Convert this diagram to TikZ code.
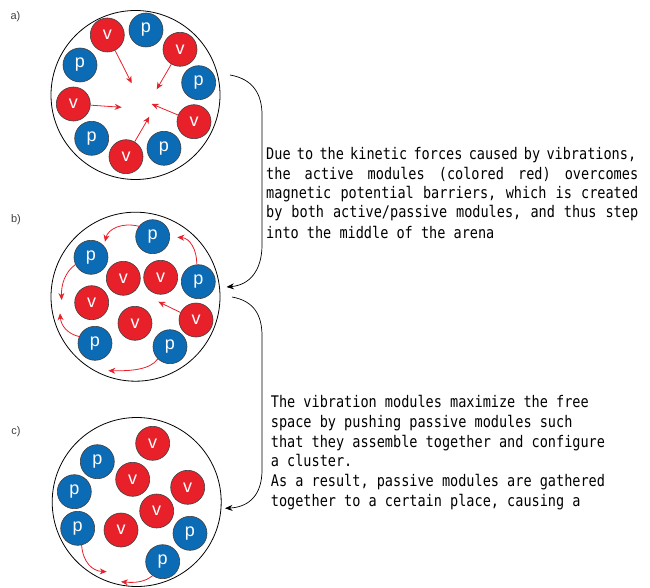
\documentclass[tikz,border=0pt]{standalone}
\usepackage{fontspec}
\usetikzlibrary{arrows.meta}
\newfontfamily\monofont[FakeStretch=0.846]{DejaVu Sans Mono}
\newfontfamily\labfont{Liberation Sans}
\definecolor{modred}{HTML}{E8202A}
\definecolor{modblue}{HTML}{0B6BB5}

% justified line of monospaced text
\newcommand\jline[2]{\makebox[#1][s]{\spaceskip=\fontdimen2\font plus 1fil minus 0.4\fontdimen2\font\relax #2}}

\tikzset{
  module/.style={circle, minimum size=34pt, inner sep=0pt, draw=black!75,
    line width=0.6pt, text=white, font=\labfont\fontsize{18}{18}\selectfont},
  modp/.style={module, fill=modblue},
  modv/.style={module, fill=modred},
  arena/.style={circle, draw=black, line width=0.8pt, minimum size=169pt, inner sep=0pt},
  push/.style={draw=modred, line width=0.8pt, -{Stealth[length=7pt,width=6pt]}},
  flow/.style={draw=black, line width=0.7pt, -{Stealth[length=7.5pt,width=6pt]}},
  panel/.style={font=\labfont\fontsize{11}{11}\selectfont, text=black!75, inner sep=0pt},
  txt/.style={anchor=base west, inner sep=0pt, font=\monofont\fontsize{16}{16}\selectfont},
}

\begin{document}
\begin{tikzpicture}[x=1pt, y=-1pt]
\useasboundingbox (0,0) rectangle (650,588);

% panel labels
\node[panel] (la) at (15.5,17) {a)};
\node[panel] (lb) at (16,220) {b)};
\node[panel] (lc) at (16,432) {c)};

% arenas
\node[arena] (A) at (135.5,95) {};
\node[arena] (B) at (135.5,296.7) {};
\node[arena] (C) at (136.7,502) {};

% ---- panel a: modules on the rim
\node[modv] (a1) at (107.3,35) {v};
\node[modp] (a2) at (146,30) {p};
\node[modv] (a3) at (180,49.3) {v};
\node[modp] (a4) at (198.7,82.7) {p};
\node[modv] (a5) at (194,121.7) {v};
\node[modp] (a6) at (164,148.3) {p};
\node[modv] (a7) at (126,156.7) {v};
\node[modp] (a8) at (91.7,138.3) {p};
\node[modv] (a9) at (73.3,104) {v};
\node[modp] (a10) at (80,65) {p};

\coordinate (ta1) at (131.7,83.3);
\coordinate (ta3) at (156.7,89.3);
\coordinate (ta9) at (121.7,107.3);
\coordinate (ta5) at (151.7,104);
\coordinate (ta7) at (149.3,116.7);
\draw[push] (a1) -- (ta1);
\draw[push] (a3) -- (ta3);
\draw[push] (a9) -- (ta9);
\draw[push] (a5) -- (ta5);
\draw[push] (a7) -- (ta7);

% ---- panel b: active modules in the middle
\node[modp] (b1) at (152.7,236.7) {p};
\node[modp] (b2) at (91,257.3) {p};
\node[modv] (b3) at (123.3,278.3) {v};
\node[modv] (b4) at (160.7,277.3) {v};
\node[modp] (b5) at (198.3,281.7) {p};
\node[modv] (b6) at (91.7,302.7) {v};
\node[modv] (b7) at (135,323.3) {v};
\node[modv] (b8) at (196,320) {v};
\node[modp] (b9) at (95,343.3) {p};
\node[modp] (b10) at (170,346.7) {p};

\coordinate (tb1) at (105,241.7);
\coordinate (tb5) at (177.3,237.3);
\coordinate (tb2) at (61.7,300);
\coordinate (tb9) at (60,313.3);
\coordinate (tb8) at (158.3,301.7);
\coordinate (tb10) at (108.3,370.7);
\draw[push] (b1.143) .. controls (122,222) and (108,229) .. (tb1);
\draw[push] (b5.95) .. controls (197,250) and (190,238) .. (tb5);
\draw[push] (b2.205) .. controls (65,272) and (61,285) .. (tb2);
\draw[push] (b9.157) .. controls (68,334) and (61,326) .. (tb9);
\draw[push] (b8) -- (tb8);
\draw[push] (b10.225) .. controls (150,370) and (130,371) .. (tb10);

% ---- panel c: passive modules gathered
\node[modv] (c1) at (152.7,443.3) {v};
\node[modp] (c2) at (97.3,461.7) {p};
\node[modv] (c3) at (132.7,479.3) {v};
\node[modp] (c4) at (74.3,491.7) {p};
\node[modv] (c5) at (187.7,487.3) {v};
\node[modv] (c6) at (156.7,511) {v};
\node[modp] (c7) at (77.7,528.3) {p};
\node[modv] (c8) at (121,530) {v};
\node[modp] (c9) at (190,533.3) {p};
\node[modp] (c10) at (162.7,561.7) {p};

\coordinate (tc7) at (106.7,571.7);
\coordinate (tc10) at (121,581.7);
\draw[push] (c7.283) .. controls (83,562) and (92,571) .. (tc7);
\draw[push] (c10.234) .. controls (145,582) and (135,583) .. (tc10);

% ---- transitions between panels
\coordinate (sa) at (230,75);
\coordinate (eb) at (226.5,287);
\coordinate (sb) at (232,297);
\coordinate (ec) at (225,508.3);
\draw[flow] (sa) .. controls (253,79) and (262,94) .. (262,115)
  -- (262,245) .. controls (262,270) and (250,285) .. (eb);
\draw[flow] (sb) .. controls (254,301) and (262,315) .. (262,336)
  -- (262,470) .. controls (262,494) and (250,507) .. (ec);

% ---- explanations
\node[txt] (t1) at (266,159.3) {\jline{370pt}{Due to the kinetic forces caused by vibrations,}};
\node[txt] (t2) at (266,179) {\jline{372pt}{the active modules (colored red) overcomes}};
\node[txt] (t3) at (266,198.5) {\jline{372pt}{magnetic potential barriers, which is created}};
\node[txt] (t4) at (266,218) {\jline{372pt}{by both active/passive modules, and thus step}};
\node[txt] (t5) at (266,238) {into the middle of the arena};

\node[txt] (u1) at (270.7,407) {The vibration modules maximize the free};
\node[txt] (u2) at (270.7,427) {space by pushing passive modules such};
\node[txt] (u3) at (270.7,447) {that they assemble together and configure};
\node[txt] (u4) at (270.7,466) {a cluster.};
\node[txt] (u5) at (270.7,486) {As a result, passive modules are gathered};
\node[txt] (u6) at (270.7,506) {together to a certain place, causing a};
\end{tikzpicture}
\end{document}
